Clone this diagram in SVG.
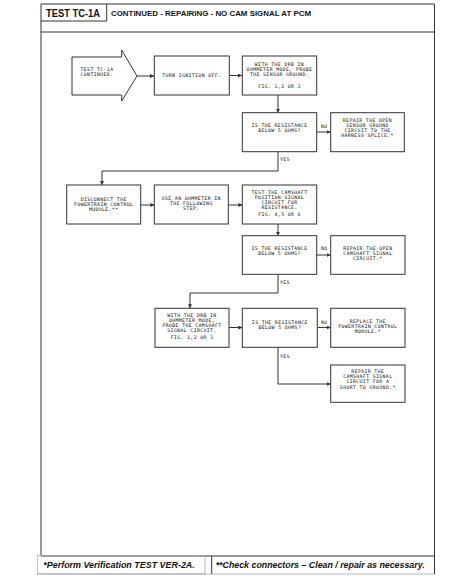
<svg xmlns="http://www.w3.org/2000/svg" width="467" height="581" viewBox="0 0 467 581">
<style>
.frame{fill:none;stroke:#333;stroke-width:1}
.box{fill:#fff;stroke:#333;stroke-width:1}
.t{font-family:"DejaVu Sans Mono","Liberation Mono",monospace;font-size:4.8px;letter-spacing:0.4px;fill:#111;text-anchor:middle}
.lbl{font-family:"DejaVu Sans Mono","Liberation Mono",monospace;font-size:4.8px;letter-spacing:0.4px;fill:#111}
.c{fill:none;stroke:#333;stroke-width:1}
.hd{font-family:"Liberation Sans",Arial,sans-serif;font-weight:bold;fill:#111}
.ft{font-family:"Liberation Sans",Arial,sans-serif;font-weight:bold;font-style:italic;font-size:8.5px;fill:#111}
</style>
<defs>
<marker id="ah" viewBox="0 0 6 6" refX="6" refY="3" markerWidth="4" markerHeight="4" orient="auto" markerUnits="userSpaceOnUse">
<path d="M0,0 L6,3 L0,6 z" fill="#333"/>
</marker>
</defs>
<rect width="467" height="581" fill="#fff"/>
<g id="frame">
<path class="frame" d="M41,4 H434.5 V574 M41,4 V556 M41,32 H434.5 M41,556 H434.5 M211.7,556 V574 M41,21 H106.7 V4"/>
<path d="M37,574 H434.5" stroke="#888" stroke-width="0.6" fill="none"/>
<rect x="37.3" y="555.7" width="167.7" height="18.3" fill="none" stroke="#a4a4d4" stroke-width="0.8"/>
<text class="hd" x="46" y="17" font-size="10" textLength="54" lengthAdjust="spacingAndGlyphs">TEST TC-1A</text>
<text class="hd" x="111" y="15.5" font-size="7.5" textLength="200" lengthAdjust="spacingAndGlyphs">CONTINUED - REPAIRING - NO CAM SIGNAL AT PCM</text>
<text class="ft" x="43.3" y="568" textLength="151.5" lengthAdjust="spacingAndGlyphs">*Perform Verification TEST VER-2A.</text>
<text class="ft" x="215.7" y="568" textLength="209" lengthAdjust="spacingAndGlyphs">**Check connectors – Clean / repair as necessary.</text>
</g>
<g id="connectors">
<path class="c" d="M137,76 H154" marker-end="url(#ah)"/>
<path class="c" d="M229,75.5 H242" marker-end="url(#ah)"/>
<path class="c" d="M278,95 V112.7" marker-end="url(#ah)"/>
<path class="c" d="M317,132 H330.7" marker-end="url(#ah)"/>
<path class="c" d="M278,152 V171 H102 V185" marker-end="url(#ah)"/>
<path class="c" d="M141,205 H154.3" marker-end="url(#ah)"/>
<path class="c" d="M228.3,205 H242.3" marker-end="url(#ah)"/>
<path class="c" d="M278,224 V235.7" marker-end="url(#ah)"/>
<path class="c" d="M317,255 H330.7" marker-end="url(#ah)"/>
<path class="c" d="M278,274.3 V293 H190 V308.3" marker-end="url(#ah)"/>
<path class="c" d="M229,327.5 H242.3" marker-end="url(#ah)"/>
<path class="c" d="M317.3,327.5 H330.7" marker-end="url(#ah)"/>
<path class="c" d="M278,347.3 V384 H330.7" marker-end="url(#ah)"/>
<text class="lbl" x="321" y="127.5">NO</text>
<text class="lbl" x="280" y="161">YES</text>
<text class="lbl" x="321" y="250">NO</text>
<text class="lbl" x="280" y="284">YES</text>
<text class="lbl" x="321" y="324">NO</text>
<text class="lbl" x="280" y="358">YES</text>
</g>
<g id="start">
<path class="box" d="M72,57 H121.7 V50 L137,76 L121.7,101 V95 H72 Z"/>
<text class="t" x="97" y="71">TEST TC-1A</text>
<text class="t" x="97" y="76">CONTINUED.</text>
</g>
<g id="ignition-off">
<rect class="box" x="154.3" y="56" width="75" height="39"/>
<text class="t" x="191.8" y="77">TURN IGNITION OFF.</text>
</g>
<g id="probe-sensor-ground">
<rect class="box" x="242.3" y="56" width="74.4" height="39"/>
<text class="t" x="279.5" y="66">WITH THE DRB IN</text>
<text class="t" x="279.5" y="71">OHMMETER MODE, PROBE</text>
<text class="t" x="279.5" y="76">THE SENSOR GROUND.</text>
<text class="t" x="279.5" y="87.5">FIG. 1,2 OR 3</text>
</g>
<g id="decision-1">
<rect class="box" x="242.3" y="112.7" width="74.4" height="39"/>
<text class="t" x="279.5" y="126.5">IS THE RESISTANCE</text>
<text class="t" x="279.5" y="131.5">BELOW 5 OHMS?</text>
</g>
<g id="repair-sensor-ground">
<rect class="box" x="330.7" y="112.7" width="73.6" height="39"/>
<text class="t" x="367.5" y="122">REPAIR THE OPEN</text>
<text class="t" x="367.5" y="127">SENSOR GROUND</text>
<text class="t" x="367.5" y="132">CIRCUIT TO THE</text>
<text class="t" x="367.5" y="137">HARNESS SPLICE.*</text>
</g>
<g id="disconnect-pcm">
<rect class="box" x="66.7" y="185" width="74" height="39"/>
<text class="t" x="103.7" y="201">DISCONNECT THE</text>
<text class="t" x="103.7" y="206">POWERTRAIN CONTROL</text>
<text class="t" x="103.7" y="211">MODULE.**</text>
</g>
<g id="use-ohmmeter">
<rect class="box" x="154.3" y="185" width="74" height="39"/>
<text class="t" x="191.3" y="200">USE AN OHMMETER IN</text>
<text class="t" x="191.3" y="205">THE FOLLOWING</text>
<text class="t" x="191.3" y="210">STEP.</text>
</g>
<g id="test-camshaft">
<rect class="box" x="242.3" y="185" width="74.4" height="39"/>
<text class="t" x="279.5" y="193.5">TEST THE CAMSHAFT</text>
<text class="t" x="279.5" y="198.5">POSITION SIGNAL</text>
<text class="t" x="279.5" y="203.5">CIRCUIT FOR</text>
<text class="t" x="279.5" y="208.5">RESISTANCE.</text>
<text class="t" x="279.5" y="215.5">FIG. 4,5 OR 6</text>
</g>
<g id="decision-2">
<rect class="box" x="242.3" y="235.7" width="74.4" height="38.6"/>
<text class="t" x="279.5" y="249.5">IS THE RESISTANCE</text>
<text class="t" x="279.5" y="254.5">BELOW 5 OHMS?</text>
</g>
<g id="repair-camshaft-open">
<rect class="box" x="330.7" y="235.7" width="74.3" height="38.6"/>
<text class="t" x="367.8" y="249.5">REPAIR THE OPEN</text>
<text class="t" x="367.8" y="254.5">CAMSHAFT SIGNAL</text>
<text class="t" x="367.8" y="260">CIRCUIT.*</text>
</g>
<g id="probe-camshaft">
<rect class="box" x="155" y="308.3" width="74" height="39"/>
<text class="t" x="192" y="317">WITH THE DRB IN</text>
<text class="t" x="192" y="322">OHMMETER MODE,</text>
<text class="t" x="192" y="327">PROBE THE CAMSHAFT</text>
<text class="t" x="192" y="332">SIGNAL CIRCUIT.</text>
<text class="t" x="192" y="339">FIG. 1,2 OR 3</text>
</g>
<g id="decision-3">
<rect class="box" x="242.3" y="308.3" width="75" height="39"/>
<text class="t" x="279.8" y="323.5">IS THE RESISTANCE</text>
<text class="t" x="279.8" y="328.5">BELOW 5 OHMS?</text>
</g>
<g id="replace-pcm">
<rect class="box" x="330.7" y="308.3" width="74.3" height="39"/>
<text class="t" x="367.8" y="323">REPLACE THE</text>
<text class="t" x="367.8" y="328">POWERTRAIN CONTROL</text>
<text class="t" x="367.8" y="333">MODULE.*</text>
</g>
<g id="repair-camshaft-short">
<rect class="box" x="330.7" y="365" width="74.3" height="37.3"/>
<text class="t" x="367.8" y="373">REPAIR THE</text>
<text class="t" x="367.8" y="378">CAMSHAFT SIGNAL</text>
<text class="t" x="367.8" y="383">CIRCUIT FOR A</text>
<text class="t" x="367.8" y="388.5">SHORT TO GROUND.*</text>
</g>
</svg>
